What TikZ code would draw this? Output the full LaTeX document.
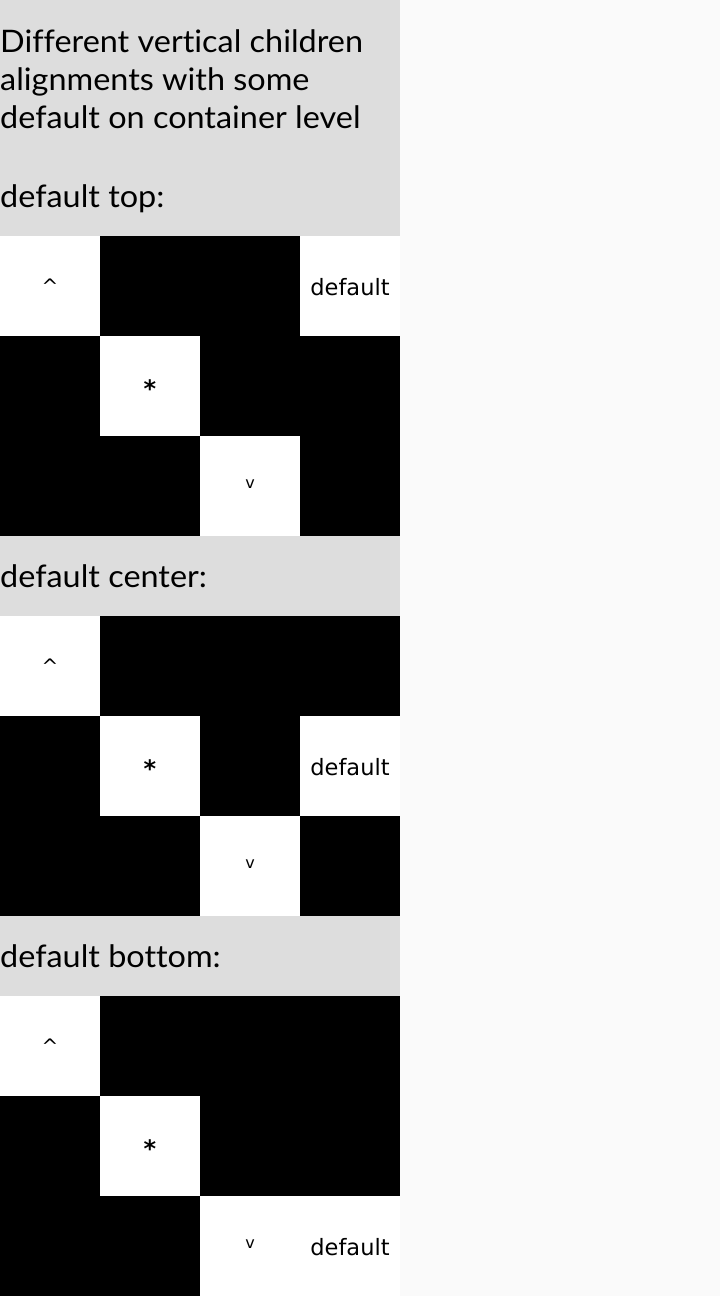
\documentclass[tikz,border=0pt]{standalone}
\usepackage{fontspec}
\setmainfont{Lato}[Ligatures=NoCommon,FakeStretch=1.045]
\newfontfamily\cellfont{DejaVu Sans}
\definecolor{pagebg}{HTML}{FAFAFA}
\definecolor{panelbg}{HTML}{DDDDDD}
\begin{document}
\begin{tikzpicture}[x=1pt,y=-1pt,
  heading/.style={anchor=base west,inner sep=0pt,font=\fontsize{31}{38}\selectfont},
  celltext/.style={anchor=base,inner sep=0pt,font=\cellfont\fontsize{22.5}{24}\selectfont},
  symtext/.style={anchor=base,inner sep=0pt,font=\cellfont\fontsize{16}{18}\selectfont},
  carettext/.style={anchor=base,inner sep=0pt,font=\cellfont\fontsize{20}{22}\selectfont},
  startext/.style={anchor=base,inner sep=0pt,font=\cellfont\bfseries\fontsize{24}{26}\selectfont},
  whitecell/.style={fill=white,draw=none},
  blackblock/.style={fill=black,draw=none}]
\useasboundingbox (0,0) rectangle (720,1296);
\fill[pagebg] (0,0) rectangle (720,1296);
\fill[panelbg] (0,0) rectangle (400,1296);
% headings
\node[heading] (h1) at (0,52) {Different vertical children};
\node[heading] (h2) at (0,90) {alignments with some};
\node[heading] (h3) at (0,128) {default on container level};
\node[heading] (t1) at (0,207) {default top:};
\node[heading] (t2) at (0,587) {default center:};
\node[heading] (t3) at (0,967) {default bottom:};
% section 1 grid
\fill[blackblock] (0,236) rectangle (400,536);
\fill[whitecell] (0,236) rectangle (100,336);
\fill[whitecell] (300,236) rectangle (400,336);
\fill[whitecell] (100,336) rectangle (200,436);
\fill[whitecell] (200,436) rectangle (300,536);
\node[carettext] (a1) at (50,293.5) {\^{}};
\node[startext] (a2) at (150,397) {*};
\node[symtext] (a3) at (250,488) {v};
\node[celltext] (a4) at (350,295) {default};
% section 2 grid
\fill[blackblock] (0,616) rectangle (400,916);
\fill[whitecell] (0,616) rectangle (100,716);
\fill[whitecell] (100,716) rectangle (200,816);
\fill[whitecell] (300,716) rectangle (400,816);
\fill[whitecell] (200,816) rectangle (300,916);
\node[carettext] (b1) at (50,673.5) {\^{}};
\node[startext] (b2) at (150,777) {*};
\node[symtext] (b3) at (250,868) {v};
\node[celltext] (b4) at (350,775) {default};
% section 3 grid
\fill[blackblock] (0,996) rectangle (400,1296);
\fill[whitecell] (0,996) rectangle (100,1096);
\fill[whitecell] (100,1096) rectangle (200,1196);
\fill[whitecell] (200,1196) rectangle (400,1296);
\node[carettext] (c1) at (50,1053.5) {\^{}};
\node[startext] (c2) at (150,1157) {*};
\node[symtext] (c3) at (250,1248) {v};
\node[celltext] (c4) at (350,1255) {default};
\end{tikzpicture}
\end{document}
